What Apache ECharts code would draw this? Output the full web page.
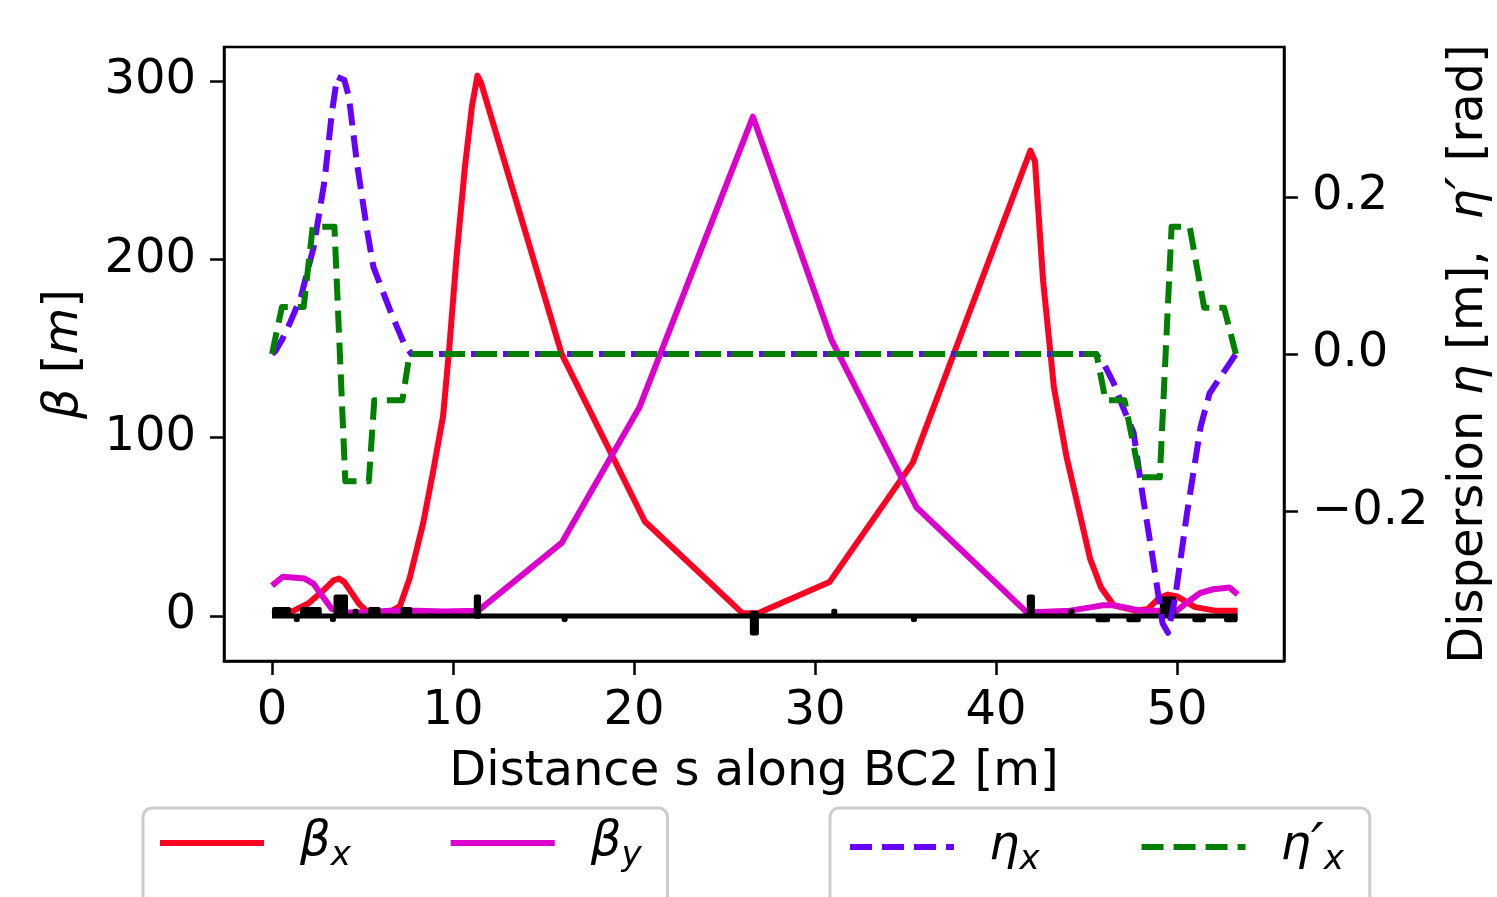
<!DOCTYPE html>
<html>
<head>
<meta charset="utf-8">
<script src="https://cdn.jsdelivr.net/npm/echarts@6/dist/echarts.min.js"></script>
<style>
  html, body { margin: 0; padding: 0; background: #fff; }
  #chart { width: 1497px; height: 897px; }
</style>
</head>
<body>
<div id="chart"></div>
<script>
// optics along BC2
const sBetaX = [0, 0.6, 1.2, 2.0, 2.8, 3.4, 3.7, 4.0, 4.4, 4.8, 5.2, 5.8, 6.35, 7.07, 7.6, 8.35, 8.9, 9.45, 9.8, 10.2, 10.66, 11.05, 11.35, 11.55, 16.0, 20.6, 26.0, 26.85, 30.8, 35.4, 41.9, 42.15, 42.6, 43.2, 43.9, 44.7, 45.2, 45.8, 46.5, 47.7, 48.4, 49.0, 49.5, 50.0, 51.0, 52.1, 53.35];
const betaX  = [1, 1.5, 3, 7, 14, 20, 21, 19, 13, 7, 3, 1.5, 1.3, 5.6, 21, 52, 81, 112, 151, 202, 252, 286, 303, 299, 147, 53, 1.5, 1.5, 19, 86, 261, 255, 188, 128, 89, 54, 32, 16, 6, 3, 4, 10, 12, 11, 5, 3, 3];

const sBetaY = [0, 0.6, 1.8, 2.3, 2.8, 3.3, 4.0, 5.0, 6.5, 8.0, 9.5, 11.4, 16.0, 20.3, 26.57, 30.9, 35.6, 41.7, 44.1, 45.3, 45.9, 46.5, 48.0, 49.0, 50.0, 50.6, 51.3, 52.0, 52.9, 53.35];
const betaY  = [17, 22, 21, 18, 11, 4, 2, 2, 3, 3, 2.5, 3, 41, 117, 280, 155, 61, 2, 3, 5, 6, 6, 3, 3, 3, 8, 13, 15, 16, 12];

const sEta = [0, 0.2, 0.55, 1.0, 1.6, 2.3, 2.9, 3.3, 3.6, 4.0, 4.25, 4.7, 5.25, 5.6, 6.6, 7.3, 7.7, 45.5, 45.9, 46.5, 47.0, 47.6, 48.1, 48.7, 49.2, 49.5, 49.9, 50.55, 51.3, 51.8, 53.25];
const etaX = [0, 0.004, 0.018, 0.04, 0.073, 0.136, 0.22, 0.306, 0.353, 0.349, 0.327, 0.242, 0.158, 0.111, 0.051, 0.013, 0, 0, -0.01, -0.037, -0.067, -0.1, -0.18, -0.266, -0.343, -0.355, -0.31, -0.203, -0.093, -0.05, 0];

const sEtaP = [0, 0.55, 1.75, 2.25, 3.45, 4.05, 5.35, 5.65, 7.2, 7.6, 45.55, 46.05, 47.1, 47.95, 49.05, 49.7, 50.7, 51.5, 52.6, 53.25];
const etaPX = [0, 0.06, 0.06, 0.162, 0.162, -0.162, -0.162, -0.059, -0.059, 0, 0, -0.059, -0.059, -0.157, -0.157, 0.162, 0.162, 0.059, 0.059, 0];

// lattice elements: start, end, bottom, top (beta units)
const magStart  = [0, 1.2, 1.55, 3.2, 3.4, 4.45, 5.3, 7.1, 11.15, 16.0, 26.4, 30.9, 35.3, 41.7, 44.0, 45.5, 47.2, 49.05, 50.85, 52.6];
const magEnd    = [1.05, 1.45, 2.75, 3.4, 4.2, 4.75, 6.0, 7.75, 11.55, 16.25, 26.9, 31.15, 35.55, 42.15, 44.25, 46.3, 48.0, 49.95, 51.6, 53.35];
const magBottom = [-1, -3, -1, -3, -1, -1, -1, -1, -1.5, -3, -11, 0, -3, -1, 0, -3.5, -3.5, -1, -3.5, -3.5];
const magTop    = [5, 0, 5, 0, 12, 4, 5, 5, 12, 0, 3, 4, 0, 12, 4, 0, 0, 11, 0, 0];
const beamline  = [0, 53.35];

const xTicks = [0, 10, 20, 30, 40, 50];
const betaTicks = [0, 100, 200, 300];
const etaTicks = [-0.2, 0, 0.2];

const FONT = 'DejaVu Sans';
const pairs = (xs, ys) => xs.map((x, i) => [x, ys[i]]);
const italic = { fontStyle: 'italic', fontFamily: FONT, fontSize: 48, color: '#000' };
const prime = { fontStyle: 'italic', fontFamily: FONT, fontSize: 56, color: '#000' };

const lineSeries = (name, xs, ys, color, yIdx, dashed, z) => ({
  name: name, type: 'line', xAxisIndex: 0, yAxisIndex: yIdx,
  data: pairs(xs, ys), symbol: 'none', showSymbol: false, smooth: false, z: z,
  lineStyle: { color: color, width: 6, type: dashed ? [22, 10] : 'solid', join: 'round' },
  itemStyle: { color: color }
});

const legendLabels = {
  bx: '{g|β}{s|x}', by: '{g|β}{s|y}', ex: '{g|η}{s|x}', epx: '{g|η}{p|′}{s|x}'
};
const legendRich = (pad) => ({
  g: { fontStyle: 'italic', fontFamily: FONT, fontSize: 48, lineHeight: 60, padding: [0, 0, 0, pad], color: '#000' },
  p: { fontStyle: 'italic', fontFamily: FONT, fontSize: 56, lineHeight: 60, color: '#000' },
  s: { fontStyle: 'italic', fontFamily: FONT, fontSize: 34, lineHeight: 44, verticalAlign: 'bottom', color: '#000' }
});
const legendBox = (left, data, padLeft, textPad, gap, padRight) => ({
  data: data, left: left, top: 808, orient: 'horizontal',
  itemWidth: 104, itemHeight: 14, itemGap: gap,
  padding: [11, padRight, 40, padLeft],
  borderColor: '#cccccc', borderWidth: 3, borderRadius: 9,
  backgroundColor: '#fff',
  itemStyle: { opacity: 0 },
  lineStyle: { width: 6 },
  formatter: (n) => legendLabels[n],
  textStyle: { fontFamily: FONT, fontSize: 48, rich: legendRich(textPad) },
  selectedMode: false
});

const chart = echarts.init(document.getElementById('chart'), null, { renderer: 'canvas' });
chart.setOption({
  backgroundColor: '#fff',
  animation: false,
  grid: {
    left: 224, top: 47, right: 213, bottom: 236, outerBoundsMode: 'none', containLabel: false,
    show: true, borderColor: '#000', borderWidth: 2.5, backgroundColor: 'transparent'
  },
  legend: [
    legendBox(143, ['bx', 'by'], 14, 31, 97, 26),
    legendBox(830, ['ex', 'epx'], 17, 30, 99, 26)
  ],
  xAxis: {
    type: 'value', min: -2.652, max: 55.91,
    splitLine: { show: false },
    axisLine: { show: true, onZero: false, lineStyle: { color: '#000', width: 2.5 } },
    axisTick: { show: true, customValues: xTicks, length: 14, lineStyle: { color: '#000', width: 2.5 } },
    axisLabel: { customValues: xTicks, fontFamily: FONT, fontSize: 48, color: '#000', margin: 27 },
    name: 'Distance s along BC2 [m]', nameLocation: 'middle', nameGap: 88,
    nameTextStyle: { fontFamily: FONT, fontSize: 48, color: '#000' }
  },
  yAxis: [{
    type: 'value', min: -25.23, max: 319.07, position: 'left',
    splitLine: { show: false },
    axisLine: { show: true, onZero: false, lineStyle: { color: '#000', width: 2.5 } },
    axisTick: { show: true, customValues: betaTicks, length: 14, lineStyle: { color: '#000', width: 2.5 } },
    axisLabel: { customValues: betaTicks, fontFamily: FONT, fontSize: 48, color: '#000', margin: 28, padding: [12, 0, 0, 0] },
    name: '{i|β} [{i|m}]', nameLocation: 'middle', nameRotate: 90, nameGap: 135,
    nameTextStyle: { fontFamily: FONT, fontSize: 48, color: '#000', rich: { i: italic } }
  }, {
    type: 'value', min: -0.391, max: 0.391, position: 'right', alignTicks: false,
    splitLine: { show: false },
    axisLine: { show: true, onZero: false, lineStyle: { color: '#000', width: 2.5 } },
    axisTick: { show: true, customValues: etaTicks, length: 14, lineStyle: { color: '#000', width: 2.5 } },
    axisLabel: {
      customValues: etaTicks, fontFamily: FONT, fontSize: 48, color: '#000', margin: 28, padding: [12, 0, 0, 0],
      formatter: (v) => v.toFixed(1).replace('-', '\u2212')
    },
    name: 'Dispersion {i|η} [m],  {i|η}{p|′} [rad]', nameLocation: 'middle', nameRotate: 90, nameGap: 158,
    nameTextStyle: { fontFamily: FONT, fontSize: 48, color: '#000', rich: { i: italic, p: prime } }
  }],
  series: [
    lineSeries('bx', sBetaX, betaX, '#ff0022', 0, false, 2),
    lineSeries('by', sBetaY, betaY, '#dd00cc', 0, false, 3),
    {
      name: 'beamline', type: 'line', yAxisIndex: 0, symbol: 'none', z: 4,
      data: beamline.map((s) => [s, 0]),
      lineStyle: { color: '#000', width: 5 }
    },
    {
      name: 'magnets', type: 'custom', yAxisIndex: 0, z: 4,
      data: magStart.map((s, i) => [s, magEnd[i], magBottom[i], magTop[i]]),
      encode: { x: [0, 1], y: [2, 3] },
      renderItem: (params, api) => {
        const p0 = api.coord([api.value(0), api.value(3)]);
        const p1 = api.coord([api.value(1), api.value(2)]);
        return {
          type: 'rect',
          shape: { x: p0[0], y: p0[1], width: Math.max(p1[0] - p0[0], 6), height: Math.max(p1[1] - p0[1], 6), r: 2 },
          style: { fill: '#000' }
        };
      }
    },
    lineSeries('ex', sEta, etaX, '#6600ff', 1, true, 5),
    lineSeries('epx', sEtaP, etaPX, '#008000', 1, true, 6)
  ]
});
</script>
</body>
</html>
